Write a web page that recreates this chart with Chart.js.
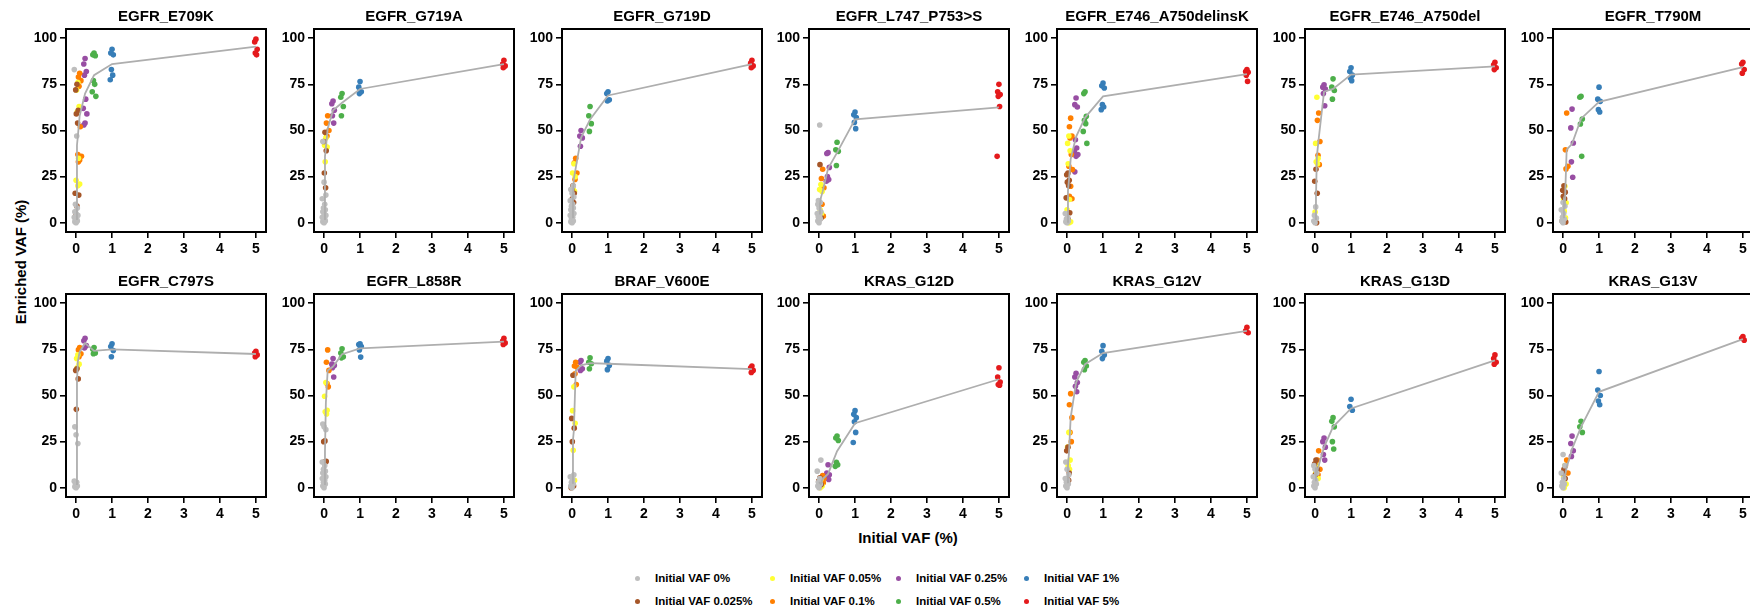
<!DOCTYPE html>
<html>
<head>
<meta charset="utf-8">
<script src="https://cdn.jsdelivr.net/npm/chart.js@4.4.0/dist/chart.umd.min.js"></script>
<style>
  body { margin: 0; background: #fff; width: 1750px; height: 609px; position: relative; overflow: hidden;
         font-family: "Liberation Sans", Arial, sans-serif; }
  .panel { position: absolute; }
  .axis-title { position: absolute; font-weight: bold; font-size: 15px; color: #000; white-space: nowrap; }
  .leg-dot { position: absolute; width: 5px; height: 5px; border-radius: 50%; }
  .leg-text { position: absolute; font-weight: bold; font-size: 11.5px; line-height: 14px; color: #000; white-space: nowrap; }
</style>
</head>
<body>
<div class="axis-title" id="xTitle" style="left:908px; top:537px; transform:translate(-50%,-50%);">Initial VAF (%)</div>
<div class="axis-title" id="yTitle" style="left:20px; top:262px; transform:translate(-50%,-50%) rotate(-90deg);">Enriched VAF (%)</div>
<div id="legend"></div>
<script>
// groups: initial VAF levels
const vafLevels = [0, 0.025, 0.05, 0.1, 0.25, 0.5, 1, 5];
const levelLabels = ['Initial VAF 0%', 'Initial VAF 0.025%', 'Initial VAF 0.05%', 'Initial VAF 0.1%',
                     'Initial VAF 0.25%', 'Initial VAF 0.5%', 'Initial VAF 1%', 'Initial VAF 5%'];
const levelColors = ['#BEBEBE', '#A65628', '#FFFF33', '#FF7F00', '#984EA3', '#4DAF4A', '#377EB8', '#E41A1C'];
const xTicks = [0, 1, 2, 3, 4, 5];
const yTicks = [0, 25, 50, 75, 100];

const panelNames = ['EGFR_E709K', 'EGFR_G719A', 'EGFR_G719D', 'EGFR_L747_P753>S', 'EGFR_E746_A750delinsK',
                    'EGFR_E746_A750del', 'EGFR_T790M', 'EGFR_C797S', 'EGFR_L858R', 'BRAF_V600E',
                    'KRAS_G12D', 'KRAS_G12V', 'KRAS_G13D', 'KRAS_G13V'];

// enriched VAF per level, one list per level (0%, 0.025%, 0.05%, 0.1%, 0.25%, 0.5%, 1%, 5%)
const egfrE709K = [
  [0, 0.5, 1, 1.5, 2, 3, 4, 5, 6, 8, 10, 47, 83],
  [75, 72, 61, 59, 54, 16, 15, 9, 4],
  [76, 72, 63, 60, 35, 23, 21, 20],
  [81, 79, 77, 74, 52, 37, 36, 34, 33],
  [89, 86, 82, 80, 67, 62, 59, 54, 53],
  [92, 91, 90.5, 77, 75, 71, 68.5],
  [94, 92, 91, 83, 80, 77.5],
  [99.5, 98, 94, 92, 91]
];
const egfrE709KMean = [2, 42, 47, 58, 70, 80, 86, 95.5];

const egfrG719A = [
  [0, 0.5, 1, 1.5, 2, 3, 4, 5, 6, 7, 8, 10, 13, 15, 22, 44],
  [49, 44, 39, 27, 19],
  [46, 42, 41, 33],
  [58, 54, 50, 47],
  [66, 64.5, 61, 58, 54],
  [70, 68, 63, 58],
  [76.5, 73.5, 71, 70],
  [88, 86, 85, 84]
];
const egfrG719AMean = [2, 36, 40.5, 51, 61, 65, 72.5, 86];

const egfrG719D = [
  [0, 0.5, 1, 2, 3, 4, 5, 6, 7, 8, 9, 10, 12, 14, 16, 18, 20],
  [20, 18, 16, 13, 11],
  [32, 27, 25, 18, 17],
  [35, 32.5, 27, 23.5],
  [50, 47, 46, 41.5],
  [63, 58, 53.7, 49.5],
  [71, 70, 66.7, 66],
  [88, 86.5, 85, 84]
];
const egfrG719DMean = [3, 15.6, 24, 29.5, 46, 56, 69, 86];

const egfrL747 = [
  [0, 1, 2, 3, 4, 5, 6, 8, 10, 11, 12, 53],
  [31.5, 3.6, 2.7, 2],
  [20.7, 18, 17, 7, 5],
  [29, 24, 19, 10, 3.6],
  [38, 37.5, 30, 25, 23.4, 22.5],
  [43.6, 39.6, 38.7, 31],
  [60, 58.5, 57, 54.4, 51],
  [75, 71, 69.5, 68.5, 63, 36]
];
const egfrL747Mean = [5, 10, 13.5, 17, 29.4, 38, 56, 62.5];

const egfrDelinsK = [
  [0, 0.5, 1, 2, 3, 5],
  [27, 26, 23, 22, 20, 13.5, 5.4, 2],
  [47, 43, 39, 32, 12.6, 7, 0.5, 0],
  [56.7, 52, 47, 46, 37, 30.6, 28.8, 19.8, 14.4, 13],
  [67.6, 64, 62.7, 45, 40.5, 38.7, 37, 36, 27.6],
  [71, 70, 57.7, 55.5, 53.7, 49.5, 43],
  [75.7, 74.2, 73, 64, 62.7, 61.3],
  [83, 82, 81.5, 80, 76.6]
];
const egfrDelinsKMean = [0.5, 17.5, 22.6, 34.5, 46.6, 57, 68.5, 80.6];

const egfrDel = [
  [0, 1, 2.5, 4, 8.6],
  [29, 22.5, 16, 0.3, 0],
  [68, 43, 35, 33, 32, 5.8],
  [59.5, 55.5, 44, 36.6, 31.5],
  [74.8, 73.5, 72.4, 70, 63.4],
  [78, 73.5, 71.7, 67],
  [84, 82, 80, 78.4, 77],
  [87, 85.6, 84, 83]
];
const egfrDelMean = [2, 13.6, 36, 45.4, 71, 72.5, 80.3, 84.7];

const egfrT790M = [
  [0, 1, 2, 3, 5, 7, 9, 11],
  [20, 17.6, 16.6, 14.4, 13, 1, 0.4],
  [19.8, 12.6, 10.8, 6.3, 2.7],
  [59.5, 39.6, 30.6, 29.2],
  [61.6, 51.4, 43.2, 33, 24.7],
  [68.5, 68, 56.2, 53.5, 36],
  [73.5, 67, 65.8, 61.3, 60],
  [87, 86, 83, 81]
];
const egfrT790MMean = [3, 11.9, 10.4, 39.7, 42.8, 56.4, 65.5, 84.3];

const egfrC797S = [
  [0, 0.5, 1, 2, 3, 3.6, 24, 28.7, 33],
  [64.5, 63.6, 59, 42.5],
  [72, 70, 67, 65],
  [76, 74.7, 72.6, 71],
  [81, 79.7, 77, 75.8],
  [76, 75, 73, 72.6],
  [78, 76.5, 74.4, 71],
  [74, 73, 72, 71]
];
const egfrC797SMean = [2, 57.4, 68.5, 73.6, 78.4, 74.2, 75, 72.5];

const egfrL858R = [
  [0, 1, 2, 3, 4, 5, 6, 7, 8, 9, 10, 12, 14, 31.5, 33, 34.5],
  [25.4, 25, 14.3, 14],
  [57, 49.6, 42, 41.2, 40],
  [74.7, 68, 63.6, 56.5, 54.7],
  [70, 67, 66.3, 65, 60],
  [75.3, 73, 71, 70.4],
  [78, 77.6, 76.5, 74.7, 70.8],
  [81, 79.5, 78.5, 77.6]
];
const egfrL858RMean = [2, 19.7, 46, 63.5, 65.7, 72.4, 75.5, 79.2];

const brafV600E = [
  [0, 1, 2, 3, 4.5, 6, 7],
  [61, 37.6, 32.3, 25, 1, 0],
  [54.7, 41.8, 35, 20.3, 4],
  [68, 66, 65.4, 61.8, 56],
  [69, 68, 64.5, 63.6],
  [70.4, 68, 67.2, 64.5],
  [70, 68.6, 66.3, 64],
  [66, 65, 63.6, 62.5]
];
const brafV600EMean = [2.7, 26, 31, 63.4, 66.3, 67.5, 67.2, 64.3];

const krasG12D = [
  [0, 1, 2, 3, 5, 9, 15],
  [5.4, 3.6, 1.8, 1],
  [4.5, 2.7, 1, 0],
  [6.6, 5.4, 5, 3.6, 2.7],
  [12.5, 8, 7, 5.4, 4.5],
  [28, 27, 25.6, 13.8, 12.5, 11.6],
  [41.8, 39.8, 38, 35.8, 30, 24.5],
  [65, 60, 57.3, 56, 55.6]
];
const krasG12DMean = [3, 3, 2, 4.7, 7.5, 19.8, 35, 58.8];

const krasG12V = [
  [0, 1, 2, 3, 4, 5, 7, 10, 14],
  [22, 20, 8, 5, 4],
  [30, 22, 15, 12, 10],
  [51, 45, 38, 30, 25],
  [62, 60, 57, 55, 52],
  [69, 68, 66, 64],
  [77, 74, 72, 70],
  [87, 85, 84]
];
const krasG12VMean = [3, 12, 18, 38, 57, 67, 73, 85];

const krasG13D = [
  [0, 1, 2, 3, 4, 6, 8, 10, 12],
  [15, 13, 10, 7],
  [12, 8, 5],
  [20, 15, 10, 7],
  [27, 25, 22, 18, 15],
  [38, 36, 33, 25, 21],
  [48, 44, 42],
  [72, 70, 68, 67]
];
const krasG13DMean = [4, 11, 8, 12, 22, 33, 43, 69];

const krasG13V = [
  [0, 1, 2, 3, 5, 8, 12, 18],
  [10, 8, 5],
  [12, 6, 2, 0],
  [15, 12, 8],
  [28, 24, 20, 17],
  [36, 33, 30],
  [63, 53, 50, 47, 45],
  [82, 81, 80]
];
const krasG13VMean = [5, 7, 6, 11, 21, 33, 52, 80.5];

const panelValues = [egfrE709K, egfrG719A, egfrG719D, egfrL747, egfrDelinsK, egfrDel, egfrT790M,
                     egfrC797S, egfrL858R, brafV600E, krasG12D, krasG12V, krasG13D, krasG13V];
const panelMeans = [egfrE709KMean, egfrG719AMean, egfrG719DMean, egfrL747Mean, egfrDelinsKMean, egfrDelMean, egfrT790MMean,
                    egfrC797SMean, egfrL858RMean, brafV600EMean, krasG12DMean, krasG12VMean, krasG13DMean, krasG13VMean];

Chart.defaults.font.family = '"Liberation Sans", Arial, sans-serif';
Chart.defaults.color = '#000';

// small horizontal spread so points don't sit exactly on top of each other
const jitter = [0, -0.035, 0.035, -0.018, 0.018, -0.05, 0.05];

const boxOutline = {
  id: 'boxOutline',
  afterDraw(chart) {
    const { ctx, chartArea: a } = chart;
    ctx.save();
    ctx.strokeStyle = '#000';
    ctx.lineWidth = 2;
    ctx.strokeRect(a.left, a.top, a.right - a.left, a.bottom - a.top);
    ctx.restore();
  }
};

const axisLeft = 62, axisBottom = 34, titleH = 29, boxW = 200, boxH = 203;

function makePanel(idx) {
  const col = idx % 7, row = Math.floor(idx / 7);
  const boxLeft = Math.round(66 + col * 247.8);
  const boxTop = row === 0 ? 29 : 294;

  const wrap = document.createElement('div');
  wrap.className = 'panel';
  const w = axisLeft + boxW + 10, h = titleH + boxH + axisBottom;
  wrap.style.left = (boxLeft - axisLeft) + 'px';
  wrap.style.top = (boxTop - titleH) + 'px';
  const canvas = document.createElement('canvas');
  canvas.width = w; canvas.height = h;
  canvas.style.width = w + 'px'; canvas.style.height = h + 'px';
  wrap.appendChild(canvas);
  document.body.appendChild(wrap);

  const values = panelValues[idx];
  const datasets = values.map((ys, i) => ({
    label: levelLabels[i],
    data: ys.map((y, k) => ({ x: vafLevels[i] + jitter[k % jitter.length], y: y })),
    backgroundColor: levelColors[i],
    borderWidth: 0,
    pointRadius: 2.8,
    pointHoverRadius: 2.8,
    order: 1
  }));
  datasets.push({
    label: 'mean',
    data: vafLevels.map((x, i) => ({ x: x, y: panelMeans[idx][i] })),
    showLine: true,
    borderColor: '#AEAEAE',
    borderWidth: 1.8,
    pointRadius: 0,
    fill: false,
    tension: 0,
    order: 0
  });

  new Chart(canvas, {
    type: 'scatter',
    data: { datasets },
    options: {
      responsive: false,
      animation: false,
      events: [],
      layout: { padding: { left: 0, right: 10, top: 0, bottom: 0 } },
      plugins: {
        legend: { display: false },
        tooltip: { enabled: false },
        title: {
          display: true,
          text: panelNames[idx],
          fullSize: false,
          color: '#000',
          font: { size: 15, weight: 'bold', lineHeight: 1.2 },
          padding: { top: 8, bottom: 3 }
        }
      },
      scales: {
        x: {
          type: 'linear',
          min: -0.28,
          max: 5.28,
          afterBuildTicks: s => { s.ticks = xTicks.map(v => ({ value: v })); },
          afterFit: s => { s.height = axisBottom; },
          ticks: { font: { size: 14, weight: 'bold' }, color: '#000', padding: 3, maxRotation: 0, autoSkip: false },
          grid: { drawOnChartArea: false, drawTicks: true, tickLength: 6, color: '#000', lineWidth: 1.6 },
          border: { display: false }
        },
        y: {
          type: 'linear',
          min: -5,
          max: 105,
          afterBuildTicks: s => { s.ticks = yTicks.map(v => ({ value: v })); },
          afterFit: s => { s.width = axisLeft; },
          ticks: { font: { size: 14, weight: 'bold' }, color: '#000', padding: 3, autoSkip: false },
          grid: { drawOnChartArea: false, drawTicks: true, tickLength: 6, color: '#000', lineWidth: 1.6 },
          border: { display: false }
        }
      }
    },
    plugins: [boxOutline]
  });
}

panelNames.forEach((_, i) => makePanel(i));

// legend: 4 columns x 2 rows
const legendCols = [637, 772, 898, 1026];
const legendRows = [578, 601];
const legend = document.getElementById('legend');
levelLabels.forEach((lab, i) => {
  const cx = legendCols[Math.floor(i / 2)], cy = legendRows[i % 2];
  const dot = document.createElement('div');
  dot.className = 'leg-dot';
  dot.style.left = (cx - 2.5) + 'px';
  dot.style.top = (cy - 2.5) + 'px';
  dot.style.background = levelColors[i];
  legend.appendChild(dot);
  const t = document.createElement('div');
  t.className = 'leg-text';
  t.style.left = (cx + 18) + 'px';
  t.style.top = (cy - 7) + 'px';
  t.textContent = lab;
  legend.appendChild(t);
});
</script>
</body>
</html>
